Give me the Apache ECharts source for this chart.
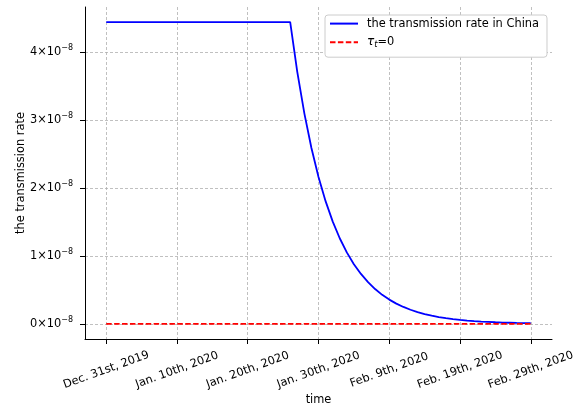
<!DOCTYPE html>
<html>
<head>
<meta charset="utf-8">
<script src="https://cdn.jsdelivr.net/npm/echarts@6/dist/echarts.min.js"></script>
<style>html,body{margin:0;padding:0;background:#fff}#c{width:582px;height:409px}</style>
</head>
<body>
<div id="c"></div>
<script>
// x positions are days since Dec. 31st, 2019
const xTickValues = [0, 10, 20, 30, 40, 50, 60];
const xTickLabels = ['Dec. 31st, 2019', 'Jan. 10th, 2020', 'Jan. 20th, 2020', 'Jan. 30th, 2020', 'Feb. 9th, 2020', 'Feb. 19th, 2020', 'Feb. 29th, 2020'];
const yTickValues = [0, 1, 2, 3, 4]; // in units of 1e-8
const days = [0, 26, 27, 28, 29, 30, 31, 32, 33, 34, 35, 36, 37, 38, 39, 40, 41, 42, 43, 44, 45, 46, 47, 48, 49, 50, 51, 52, 53, 54, 55, 56, 57, 58, 59, 60];
const chinaRate = [4.436, 4.436, 3.705, 3.095, 2.585, 2.160, 1.804, 1.507, 1.259, 1.051, 0.878, 0.734, 0.613, 0.512, 0.427, 0.357, 0.298, 0.249, 0.208, 0.174, 0.145, 0.121, 0.101, 0.085, 0.071, 0.059, 0.049, 0.041, 0.034, 0.029, 0.024, 0.020, 0.017, 0.014, 0.012, 0.010];
const zeroDays = [0, 60];
const zeroRate = [0, 0];

const font = 'DejaVu Sans';
const fs = 11.4;
const chart = echarts.init(document.getElementById('c'), null, {renderer: 'canvas'});
const gridLine = {show: true, lineStyle: {color: '#b0b0b0', width: 0.8, type: [3, 2]}};
chart.setOption({
  animation: false,
  textStyle: {fontFamily: font},
  grid: {left: 85, right: 30, top: 7, bottom: 70, containLabel: false, outerBoundsMode: 'none'},
  legend: {
    orient: 'vertical', left: 325, top: 15,
    padding: [3, 8, 8, 4], itemGap: 7, itemWidth: 28, itemHeight: 14,
    backgroundColor: '#fff', borderColor: '#cccccc', borderWidth: 1, borderRadius: 3,
    itemStyle: {color: 'rgba(0,0,0,0)', borderWidth: 0, opacity: 0},
    textStyle: {fontFamily: font, fontSize: fs, color: '#000', padding: [0, 0, 0, 4],
      rich: {
        n: {fontFamily: font, fontSize: fs, color: '#000', lineHeight: 14},
        tau: {fontFamily: font, fontSize: 12, fontStyle: 'italic', color: '#000', lineHeight: 14},
        sub: {fontFamily: font, fontSize: 8.5, fontStyle: 'italic', color: '#000', padding: [5, 0, 0, 0]}
      }},
    formatter: function (name) {
      if (name === 'tau') return '{tau|τ}{sub|t}{n|=0}';
      return '{n|' + name + '}';
    },
    data: ['the transmission rate in China', 'tau']
  },
  xAxis: {
    type: 'value', min: -3, max: 63,
    name: 'time', nameLocation: 'middle', nameGap: 56, nameMoveOverlap: false,
    nameTextStyle: {fontFamily: font, fontSize: fs, color: '#000'},
    axisLine: {show: true, onZero: false, lineStyle: {color: '#000', width: 1}},
    axisTick: {show: true, length: 5, inside: false, customValues: xTickValues, lineStyle: {color: '#000', width: 1}},
    axisLabel: {
      customValues: xTickValues, rotate: 20, align: 'center', verticalAlign: 'middle', margin: 31,
      fontFamily: font, fontSize: fs, color: '#000',
      formatter: function (v) { const i = xTickValues.indexOf(v); return i >= 0 ? xTickLabels[i] : ''; }
    },
    splitLine: gridLine
  },
  yAxis: {
    type: 'value', min: -0.222, max: 4.658,
    name: 'the transmission rate', nameLocation: 'middle', nameGap: 58, nameRotate: 90, nameMoveOverlap: false,
    nameTextStyle: {fontFamily: font, fontSize: fs, color: '#000'},
    axisLine: {show: true, onZero: false, lineStyle: {color: '#000', width: 1}},
    axisTick: {show: true, length: 5, inside: false, customValues: yTickValues, lineStyle: {color: '#000', width: 1}},
    axisLabel: {
      customValues: yTickValues, margin: 12, fontFamily: font, color: '#000',
      formatter: function (v) { return '{m|' + Math.round(v) + '×10}{s|−8}'; },
      rich: {
        m: {fontFamily: font, fontSize: fs, color: '#000'},
        s: {fontFamily: font, fontSize: 8, color: '#000', padding: [0, 0, 7, 0]}
      }
    },
    splitLine: gridLine
  },
  series: [
    {
      name: 'the transmission rate in China', type: 'line', symbol: 'none', z: 3,
      data: days.map((d, i) => [d, chinaRate[i]]),
      lineStyle: {color: '#0000ff', width: 1.8}, itemStyle: {color: '#0000ff'}
    },
    {
      name: 'tau', type: 'line', symbol: 'none', z: 4,
      data: zeroDays.map((d, i) => [d, zeroRate[i]]),
      lineStyle: {color: '#ff0000', width: 1.8, type: [5.5, 2.4]}, itemStyle: {color: '#ff0000'}
    }
  ]
});
</script>
</body>
</html>
